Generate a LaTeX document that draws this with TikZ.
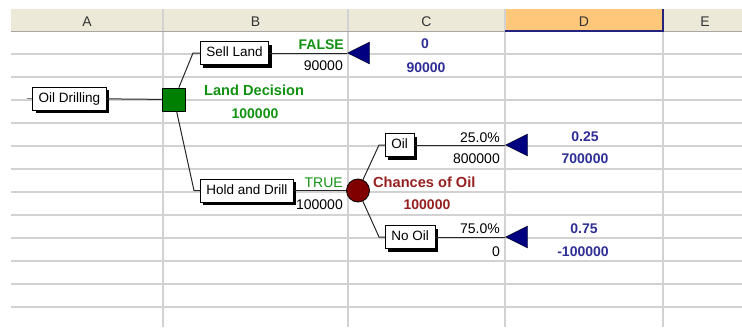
\documentclass[tikz,border=0pt]{standalone}
\usepackage{fontspec}
\setmainfont{Liberation Sans}
\usetikzlibrary{shapes.geometric, shadows}

\definecolor{hdrfill}{HTML}{ECE9D8}
\definecolor{hdrsel}{HTML}{FFC77A}
\definecolor{selline}{HTML}{23237F}
\definecolor{gridc}{HTML}{D2D2D2}
\definecolor{decgreen}{HTML}{008000}
\definecolor{lblgreen}{HTML}{119211}
\definecolor{endnavy}{HTML}{000080}
\definecolor{lblblue}{HTML}{2E2E96}
\definecolor{chmaroon}{HTML}{800000}
\definecolor{lblred}{HTML}{962020}

\begin{document}
\begin{tikzpicture}[x=1pt, y=-1pt,
font = \fontsize{13.5}{16}\selectfont,
box/.style = {% branch boxes
    draw=black, fill=white, line width=0.9pt,
    inner xsep=6pt, inner ysep=5pt, text height=10pt, text depth=3pt,
    drop shadow={shadow xshift=3pt, shadow yshift=-3pt, opacity=1, fill=black},
            },
decbox/.style = {% decision node
    draw=black, fill=decgreen, line width=0.8pt,
    minimum size=23pt, inner sep=0pt,
            },
chnode/.style = {% chance node
    circle, draw=black, fill=chmaroon, line width=0.8pt,
    minimum size=23pt, inner sep=0pt,
            },
endtri/.style = {% end node
    isosceles triangle, isosceles triangle stretches, shape border rotate=180,
    draw=black, fill=endnavy, minimum width=22pt, minimum height=22pt,
    inner sep=0pt, anchor=apex,
            },
br/.style = {line width=1pt, black!85},
val/.style = {inner sep=0pt, font=\fontsize{14}{16}\selectfont},
bval/.style = {inner sep=0pt, font=\fontsize{14}{16}\selectfont\bfseries},
bname/.style = {inner sep=0pt, font=\fontsize{14.6}{17}\selectfont\bfseries},
                    ]
\useasboundingbox (0,0) rectangle (742,327);
% header
\fill[hdrfill] (11,9) rectangle (742,31);
\fill[hdrsel] (505,9) rectangle (663,31);
% grid
\foreach \y in {54,77,...,307}{\draw[gridc, line width=1.2pt] (11,\y) -- (742,\y);}
\foreach \x in {163,348,505,663}{\draw[gridc, line width=1.2pt] (\x,9) -- (\x,327);}
\draw[black!35, line width=1pt] (11,31) -- (742,31);
\draw[selline, line width=1.2pt] (505,31) -- (663,31) -- (663,9);
% column letters
\foreach \c/\x in {A/87, B/255.5, C/426.5, D/584, E/705}
    {\node[val, text=black!80] (col\c) at (\x,21.5) {\c};}
% nodes
\node[box] (drill) at (69.5,98.5) {Oil Drilling};
\node[decbox] (dec) at (174,99.5) {};
\node[box, anchor=west] (sell) at (200,53) {Sell Land};
\node[box, anchor=west] (hold) at (200,190.5) {Hold and Drill};
\node[chnode] (chance) at (358,190.5) {};
\node[box, anchor=west] (oil) at (385,145) {Oil};
\node[box, anchor=west] (nooil) at (385,237) {No Oil};
\node[endtri] (t1) at (347,53) {};
\node[endtri] (t2) at (505,145) {};
\node[endtri] (t3) at (505,237) {};
% bends
\coordinate (k0) at (27,98.5);
\coordinate (k1) at (193,53);
\coordinate (k2) at (194,190.5);
\coordinate (k3) at (379,145);
\coordinate (k4) at (379,237);
% branches
\draw[line width=1pt, gray] (k0) -- (drill);
\draw[br] (drill) -- (dec);
\draw[br] (dec) -- (k1) -- (sell);
\draw[br] (sell) -- (t1.apex);
\draw[br] (dec) -- (k2) -- (hold);
\draw[br] (hold) -- (chance);
\draw[br] (chance) -- (k3) -- (oil);
\draw[br] (oil) -- (t2.apex);
\draw[br] (chance) -- (k4) -- (nooil);
\draw[br] (nooil) -- (t3.apex);
% branch values
\node[bval, anchor=base east, text=lblgreen] (sellflag) at (344,49) {FALSE};
\node[val, anchor=base east] (sellpay) at (343,70) {90000};
\node[bname, anchor=base west, text=lblgreen] (decname) at (204,95) {Land Decision};
\node[bval, anchor=base, text=lblgreen] (decval) at (255,118) {100000};
\node[val, anchor=base east, text=lblgreen] (holdflag) at (343,187) {TRUE};
\node[val, anchor=base east] (holdpay) at (343,209) {100000};
\node[bname, anchor=base west, text=lblred] (chname) at (373,187) {Chances of Oil};
\node[bval, anchor=base, text=lblred] (chval) at (427,209.5) {100000};
\node[val, anchor=base east] (oilprob) at (500,142) {25.0\%};
\node[val, anchor=base east] (oilpay) at (500,163) {800000};
\node[val, anchor=base east] (noprob) at (500,233) {75.0\%};
\node[val, anchor=base east] (nopay) at (500,256) {0};
% end values
\node[bval, anchor=base, text=lblblue] (p1) at (425,48.5) {0};
\node[bval, anchor=base, text=lblblue] (v1) at (426,72) {90000};
\node[bval, anchor=base, text=lblblue] (p2) at (585,141.5) {0.25};
\node[bval, anchor=base, text=lblblue] (v2) at (585,163) {700000};
\node[bval, anchor=base, text=lblblue] (p3) at (584,233) {0.75};
\node[bval, anchor=base, text=lblblue] (v3) at (583,256) {-100000};
\end{tikzpicture}
\end{document}
